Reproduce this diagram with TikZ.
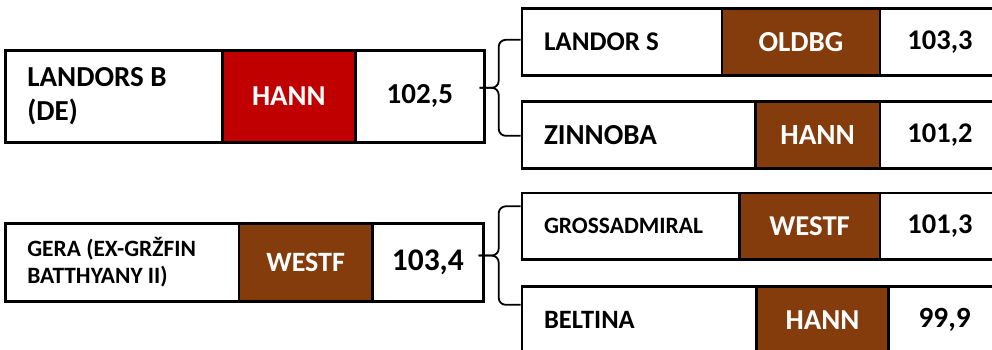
\documentclass[tikz,border=0pt]{standalone}
\usepackage{fontspec}
\setmainfont{Carlito}
\usetikzlibrary{calc}
\definecolor{cred}{HTML}{C00000}
\definecolor{cbrown}{HTML}{843C0C}
\newcommand\fsz[2]{\fontsize{#1}{#2}\selectfont}
\tikzset{
  cellbox/.style={draw=black, line width=2.6pt, anchor=north west, inner sep=0pt, align=center},
  namecell/.style={cellbox, align=flush left, inner xsep=22pt, fill=white},
  codecell/.style={cellbox, text=white},
  numcell/.style={cellbox, fill=white},
  brc/.style={draw=black, line width=1.8pt, rounded corners=7pt},
}
\begin{document}
\begin{tikzpicture}[x=1pt,y=-1pt]
\useasboundingbox (0,0) rectangle (992,350);
\clip (0,0) rectangle (992,350);
% left group 1
\node[namecell, text width=173pt, minimum height=92pt, font=\bfseries\fsz{29}{34}] (L1name) at (4,49) {LANDORS B\\(DE)};
\node[codecell, fill=cred, minimum width=133pt, minimum height=92pt, font=\bfseries\fsz{28.8}{34}] (L1code) at (221,49) {HANN};
\node[numcell, minimum width=129pt, minimum height=92pt, font=\bfseries\fsz{29}{34}] (L1num) at (354,49) {102,5};
% left group 2
\node[namecell, text width=189.7pt, minimum height=78pt, font=\bfseries\fsz{23.4}{26.7}] (L2name) at (4,222) {GERA (EX-GRŽFIN\\BATTHYANY II)};
\node[codecell, fill=cbrown, minimum width=133.3pt, minimum height=78pt, font=\bfseries\fsz{28}{34}] (L2code) at (237.7,222) {WESTF};
\node[numcell, minimum width=111pt, minimum height=78pt, font=\bfseries\fsz{31.5}{34}] (L2num) at (371,222) {103,4};
% right rows
\node[namecell, text width=156pt, minimum height=67pt, font=\bfseries\fsz{27}{32}] (R1name) at (520.7,7) {LANDOR S};
\node[codecell, fill=cbrown, minimum width=158pt, minimum height=67pt, font=\bfseries\fsz{29}{34}] (R1code) at (720.7,7) {OLDBG};
\node[numcell, minimum width=120pt, minimum height=67pt, font=\bfseries\fsz{28.5}{34}] (R1num) at (878.7,7) {103,3};

\node[namecell, text width=189.3pt, minimum height=67pt, font=\bfseries\fsz{29}{34}] (R2name) at (520.7,100) {ZINNOBA};
\node[codecell, fill=cbrown, minimum width=124.7pt, minimum height=67pt, font=\bfseries\fsz{29.2}{34}] (R2code) at (754,100) {HANN};
\node[numcell, minimum width=120pt, minimum height=67pt, font=\bfseries\fsz{28.5}{34}] (R2num) at (878.7,100) {101,2};

\node[namecell, text width=173.3pt, minimum height=66.6pt, font=\bfseries\fsz{23.5}{28}] (R3name) at (520.7,191.7) {GROSSADMIRAL};
\node[codecell, fill=cbrown, minimum width=140.7pt, minimum height=66.6pt, font=\bfseries\fsz{28.7}{34}] (R3code) at (738,191.7) {WESTF};
\node[numcell, minimum width=120pt, minimum height=66.6pt, font=\bfseries\fsz{28.5}{34}] (R3num) at (878.7,191.7) {101,3};

\node[namecell, text width=190.3pt, minimum height=67pt, font=\bfseries\fsz{26.5}{32}] (R4name) at (520.7,285) {BELTINA};
\node[codecell, fill=cbrown, minimum width=132.3pt, minimum height=67pt, font=\bfseries\fsz{28.9}{34}] (R4code) at (755,285) {HANN};
\node[numcell, minimum width=112pt, minimum height=67pt, font=\bfseries\fsz{29.3}{34}] (R4num) at (887.3,285) {99,9};
% braces
\coordinate (a1) at ([yshift=2pt]R1name.west);
\coordinate (a2) at ([yshift=-1pt]R2name.west);
\coordinate (m1) at ($(a1)!0.5!(a2)$);
\path (L1num.east |- m1) ++(-6,0) coordinate (t1);
\path (a1) ++(-22,0) coordinate (v1);
\draw[brc] (a1) -- (v1) -- (v1 |- t1) -- (t1);
\draw[brc] (a2) -- (v1 |- a2) -- (v1 |- t1) -- (t1);
\coordinate (a3) at ([yshift=20pt]R3name.west);
\coordinate (a4) at ([yshift=15pt]R4name.west);
\coordinate (m2) at ($(a3)!0.5!(a4)$);
\path (L2num.east |- m2) ++(-6,0) coordinate (t2);
\path (a3) ++(-22,0) coordinate (v2);
\draw[brc] (a3) -- (v2) -- (v2 |- t2) -- (t2);
\draw[brc] (a4) -- (v2 |- a4) -- (v2 |- t2) -- (t2);
\end{tikzpicture}
\end{document}
